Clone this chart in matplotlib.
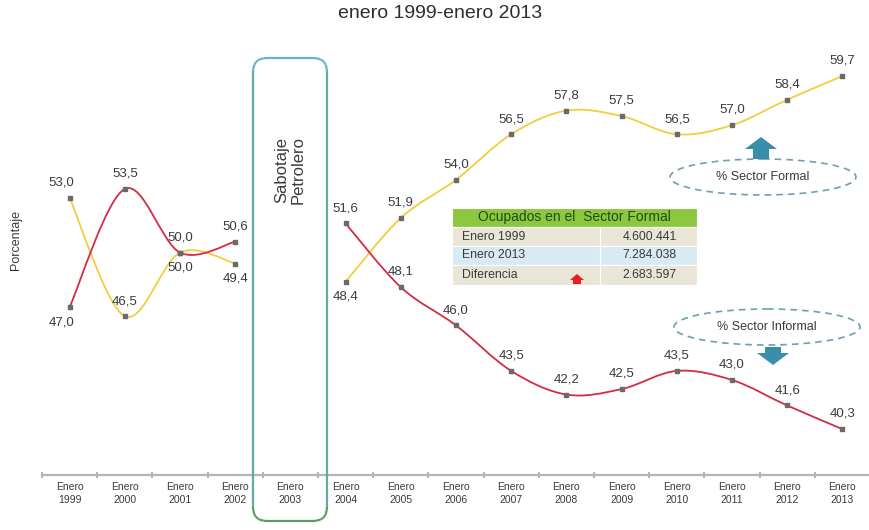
import numpy as np
import matplotlib
matplotlib.use("Agg")
import matplotlib.pyplot as plt
from matplotlib.path import Path
from matplotlib.patches import PathPatch, FancyBboxPatch, Ellipse, Rectangle, Polygon
from matplotlib.collections import LineCollection
from matplotlib.transforms import Affine2D

plt.rcParams['font.family'] = ['Liberation Sans', 'DejaVu Sans']

# ---------- data ----------
years = list(range(1999, 2014))
formal = [53.0, 46.5, 50.0, 49.4, np.nan, 48.4, 51.9, 54.0, 56.5, 57.8,
          57.5, 56.5, 57.0, 58.4, 59.7]
informal = [47.0, 53.5, 50.0, 50.6, np.nan, 51.6, 48.1, 46.0, 43.5, 42.2,
            42.5, 43.5, 43.0, 41.6, 40.3]
formal_below = [2001, 2002, 2004]      # years whose label sits under the point
informal_below = [1999]

table_title = "Ocupados en el  Sector Formal"
table_labels = ["Enero 1999", "Enero 2013", "Diferencia"]
table_values = ["4.600.441", "7.284.038", "2.683.597"]

YELLOW = "#f2cd3c"
RED = "#d42c44"
MARK = "#6a6a6a"
TXT = "#3a3a3a"
TEAL = "#3b8eaa"


def smooth_path(x, y):
    """Excel-like smoothed line: cubic Bezier through every point."""
    p = np.column_stack([x, y]).astype(float)
    n = len(p)
    verts, codes = [p[0]], [Path.MOVETO]
    for i in range(n - 1):
        p0, p1, p2, p3 = p[max(i - 1, 0)], p[i], p[i + 1], p[min(i + 2, n - 1)]
        verts += [p1 + (p2 - p0) / 6, p2 - (p3 - p1) / 6, p2]
        codes += [Path.CURVE4] * 3
    return Path(verts, codes)


def draw_series(ax, vals, color, below):
    x = np.arange(len(vals))
    v = np.asarray(vals, float)
    ok = ~np.isnan(v)
    # split at the gap (2003)
    starts = np.flatnonzero(ok & ~np.r_[False, ok[:-1]])
    for s in starts:
        e = s
        while e < len(v) and ok[e]:
            e += 1
        ax.add_patch(PathPatch(smooth_path(x[s:e], v[s:e]), fill=False,
                               edgecolor=color, lw=1.3, zorder=3))
    ax.plot(x[ok], v[ok], ls="none", marker="s", ms=2.8, color=MARK, zorder=4)
    for xi, vi in zip(x[ok], v[ok]):
        dy = -11 if years[xi] in below else 11
        dx = -6 if years[xi] == 1999 else 0
        ax.annotate(f"{vi:.1f}".replace(".", ","), (xi, vi),
                    xytext=(dx, dy), textcoords="offset points",
                    ha="center", va="center", fontsize=9.5, color=TXT,
                    zorder=5)


fig = plt.figure(figsize=(8.7, 5.3), dpi=100)
# pixel coordinates with origin at top-left, for the decorations
PX = Affine2D().scale(0.01, -0.01).translate(0, 5.3) + fig.dpi_scale_trans

ax = fig.add_axes([42 / 870, 55 / 530, 828 / 870, 445 / 530])
ax.set_xlim(-0.5, len(years) - 0.5)
ax.set_ylim(37.78, 62.23)
for s in ("top", "right", "left"):
    ax.spines[s].set_visible(False)
ax.spines["bottom"].set_color("#b5b5b5")
ax.spines["bottom"].set_linewidth(1.6)
ax.set_yticks([])
ax.set_xticks(range(len(years)))
ax.set_xticklabels([f"Enero\n{y}" for y in years], fontsize=7.5,
                   color=TXT, linespacing=1.35)
ax.set_xticks(np.arange(-0.5, len(years), 1), minor=True)
ax.tick_params(axis="x", which="major", length=0, pad=5)
ax.tick_params(axis="x", which="minor", length=5, width=1.2,
               direction="inout", color="#a8a8a8")

draw_series(ax, formal, YELLOW, formal_below)
draw_series(ax, informal, RED, informal_below)

fig.text(440 / 870, 1 - 14 / 530, "enero 1999-enero 2013", ha="center",
         va="center", fontsize=14, color="#2e2e2e")
fig.text(16 / 870, 1 - 240 / 530, "Porcentaje", rotation=90, ha="center",
         va="center", fontsize=9, color=TXT)

# ---------- "Sabotaje Petrolero" rounded box with gradient edge ----------
box = FancyBboxPatch((253, 58), 74, 463,
                     boxstyle="round,pad=0,rounding_size=14")
poly = box.get_path().to_polygons(closed_only=False)
c_top = np.array(matplotlib.colors.to_rgb("#62b6cc"))
c_bot = np.array(matplotlib.colors.to_rgb("#5f9a5c"))
segs, cols = [], []
for pl in poly:
    for a, b in zip(pl[:-1], pl[1:]):
        segs.append([a, b])
        t = np.clip(((a[1] + b[1]) / 2 - 58) / 463, 0, 1) ** 1.3
        cols.append(c_top * (1 - t) + c_bot * t)
fig.add_artist(LineCollection(segs, colors=cols, linewidths=1.6,
                              transform=PX, zorder=6))
fig.text(290, 170, "Sabotaje\nPetrolero", transform=PX, rotation=90,
         ha="center", va="center", fontsize=12, color=TXT, linespacing=1.15)

# ---------- table ----------
tx0, tx1, tsplit = 452, 697, 600
row_tops = [208, 227, 246, 265, 285]
row_fill = ["#e9e6d8", "#d8ebf4", "#e9e6d8"]
fig.add_artist(Rectangle((tx0, row_tops[0]), tx1 - tx0,
                         row_tops[1] - row_tops[0], transform=PX,
                         facecolor="#8dc63f", edgecolor="white", lw=0.8))
fig.text((tx0 + tx1) / 2, (row_tops[0] + row_tops[1]) / 2, table_title,
         transform=PX, ha="center", va="center", fontsize=10,
         color="#1f4d14")
for i, (lab, val) in enumerate(zip(table_labels, table_values)):
    y0, y1 = row_tops[i + 1], row_tops[i + 2]
    for a, b in ((tx0, tsplit), (tsplit, tx1)):
        fig.add_artist(Rectangle((a, y0), b - a, y1 - y0, transform=PX,
                                 facecolor=row_fill[i], edgecolor="white",
                                 lw=0.8))
    fig.text(tx0 + 10, (y0 + y1) / 2, lab, transform=PX, ha="left",
             va="center", fontsize=8.8, color=TXT)
    fig.text(tx1 - 20, (y0 + y1) / 2, val, transform=PX, ha="right",
             va="center", fontsize=8.8, color=TXT)
fig.add_artist(Polygon([(570, 280), (577, 274), (584, 280), (581, 280),
                        (581, 284), (573, 284), (573, 280)], closed=True,
                       transform=PX, facecolor="#e61e25", edgecolor="none"))

# ---------- dashed ellipses and block arrows ----------
for (cx, cy), label in (((763, 177), "% Sector Formal"),
                        ((767, 327), "% Sector Informal")):
    fig.add_artist(Ellipse((cx, cy), 186, 36, transform=PX, fill=False,
                           edgecolor="#6d9fb0", lw=1.2,
                           linestyle=(0, (4, 3))))
    fig.text(cx, cy, label, transform=PX, ha="center", va="center",
             fontsize=9, color=TXT)


def block_arrow(cx, tip, base, up=True):
    s = 1 if up else -1
    head = tip + s * 12
    pts = [(cx, tip), (cx + 16, head), (cx + 8, head), (cx + 8, base),
           (cx - 8, base), (cx - 8, head), (cx - 16, head)]
    fig.add_artist(Polygon(pts, closed=True, transform=PX,
                           facecolor=TEAL, edgecolor="none"))


block_arrow(761, 137, 159, up=True)
block_arrow(773, 365, 347, up=False)

fig.savefig("out.png", dpi=100)
